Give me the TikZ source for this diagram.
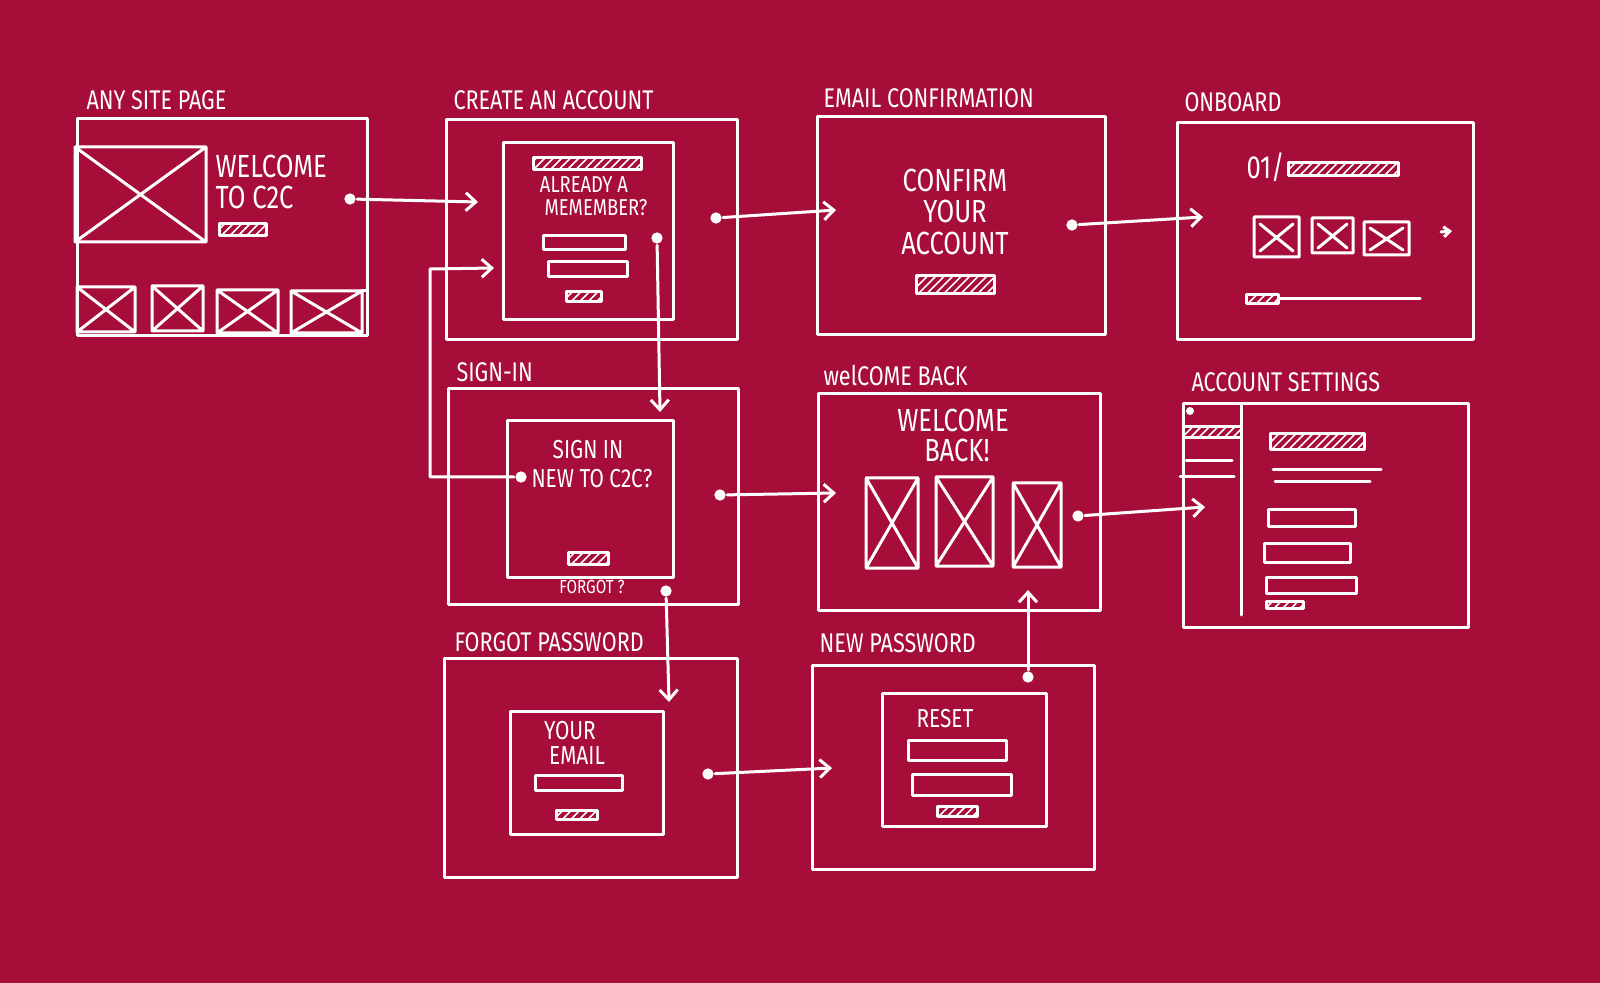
\documentclass[tikz,border=0pt]{standalone}
\usepackage{fontspec}
\newfontfamily\sketchfont[FakeStretch=0.8]{Fira Sans}
\usepackage{tikz}
\usetikzlibrary{arrows.meta}
\usetikzlibrary{patterns.meta}
\definecolor{wineRed}{RGB}{166,13,56}

\begin{document}
\begin{tikzpicture}
	[
	x=0.5pt, y=-0.5pt,
	white, line width=1.5pt, line cap=round, line join=round,
	> = {Straight Barb[length=5pt,width=9pt]},
	dot/.style = {fill,circle,inner sep=2pt},
	hatch/.style = {pattern={Lines[angle=45,distance=3pt,line width=.8pt]}, pattern color=white},
	title/.style = {anchor=base west, inner sep=0pt, font=\sketchfont\fontsize{13.5}{14}\selectfont},
	say/.style = {inner sep=0pt, align=center, font=\sketchfont\fontsize{16}{18}\selectfont},
	note/.style = {inner sep=0pt, align=center, font=\sketchfont\fontsize{13}{15}\selectfont},
	tiny/.style = {inner sep=0pt, font=\sketchfont\fontsize{9.5}{11}\selectfont}
	]
	\useasboundingbox (0,0) rectangle (1600,983);
	\fill[wineRed] (0,0) rectangle (1600,983);

	\node[title] (lblSite) at (85,110) {ANY SITE PAGE};
	\draw (77,119) rectangle (367,336);
	\draw (75,147) rectangle (206,242) (75,147) -- (206,242) (75,242) -- (206,147);
	\node[say, anchor=base west] (tWelcome) at (214,178) {WELCOME};
	\node[say, anchor=base west] (tToC) at (214,209) {TO C2C};
	\draw[hatch] (219,224) rectangle (266,236);
	\draw (77,287) rectangle (135,332) (77,287) -- (135,332) (77,332) -- (135,287);
	\draw (152,286) rectangle (203,331) (152,286) -- (203,331) (152,331) -- (203,286);
	\draw (217,290) rectangle (278,333) (217,290) -- (278,333) (217,333) -- (278,290);
	\draw (291,291) rectangle (362,333) (291,291) -- (362,333) (291,333) -- (362,291);
	\draw (362,291) -- (367,291);

	\node[title] (lblCreate) at (452,110) {CREATE AN ACCOUNT};
	\draw (446,120) rectangle (737,340);
	\draw (503,143) rectangle (673,320);
	\draw[hatch] (533,158) rectangle (641,170);
	\node[tiny, font=\sketchfont\fontsize{11.5}{13}\selectfont, anchor=base] (tAlready) at (584,193) {ALREADY A};
	\node[tiny, font=\sketchfont\fontsize{11.5}{13}\selectfont, anchor=base] (tMember) at (596,216) {MEMEMBER?};
	\draw (543,236) rectangle (625,250);
	\draw (548,262) rectangle (627,277);
	\draw[hatch] (566,292) rectangle (601,302);

	\node[title] (lblEmail) at (822,108) {EMAIL CONFIRMATION};
	\draw (817,117) rectangle (1105,335);
	\node[say] (tConfirm) at (955,180) {CONFIRM};
	\node[say] (tYour) at (955,211) {YOUR};
	\node[say] (tAccount) at (955,243) {ACCOUNT};
	\draw[hatch] (916,276) rectangle (994,294);

	\node[title] (lblOnboard) at (1183,112) {ONBOARD};
	\draw (1177,123) rectangle (1473,340);
	\node[say, anchor=base west] (tStep) at (1245,179) {01/};
	\draw[hatch] (1288,163) rectangle (1398,176);
	\draw (1254,217) rectangle (1299,257) (1260,224) -- (1293,251) (1260,251) -- (1293,224);
	\draw (1312,218) rectangle (1353,253) (1318,224) -- (1347,248) (1318,248) -- (1347,224);
	\draw (1364,222) rectangle (1409,255) (1370,228) -- (1403,250) (1370,250) -- (1403,228);
	\coordinate (nextA) at (1441,232);
	\coordinate (nextB) at (1452,231);
	\draw[-{Straight Barb[length=3pt,width=5pt]}] (nextA) -- (nextB);
	\draw[hatch] (1246,295) rectangle (1278,304);
	\draw (1278,299) -- (1420,299);

	\node[title] (lblSignIn) at (455,382) {SIGN-IN};
	\draw (448,389) rectangle (738,604);
	\draw (507,421) rectangle (673,577);
	\node[note] (tSignIn) at (588,450) {SIGN IN};
	\node[note, anchor=west] (tNew) at (530,479) {NEW TO C2C?};
	\draw[hatch] (568,553) rectangle (608,564);
	\node[tiny] (tForgot) at (592,587) {FORGOT ?};

	\node[title] (lblBack) at (822,386) {welCOME BACK};
	\draw (818,394) rectangle (1100,610);
	\node[say] (tWelcomeB) at (953,420) {WELCOME};
	\node[say] (tBack) at (957,450) {BACK!};
	\draw (866,478) rectangle (918,568) (866,478) -- (918,568) (866,568) -- (918,478);
	\draw (936,477) rectangle (993,566) (936,477) -- (993,566) (936,566) -- (993,477);
	\draw (1013,483) rectangle (1061,567) (1013,483) -- (1061,567) (1013,567) -- (1061,483);

	\node[title] (lblSettings) at (1190,392) {ACCOUNT SETTINGS};
	\draw (1183,404) rectangle (1468,627);
	\draw (1241,404) -- (1241,615);
	\fill (1190,411) circle (4);
	\draw[hatch] (1183,427) rectangle (1241,438);
	\draw (1186,461) -- (1232,461);
	\draw (1180,477) -- (1234,477);
	\draw[hatch] (1270,434) rectangle (1364,450);
	\draw (1273,470) -- (1381,470);
	\draw (1275,482) -- (1370,482);
	\draw (1268,510) rectangle (1355,527);
	\draw (1264,544) rectangle (1350,562);
	\draw (1266,577) rectangle (1356,593);
	\draw[hatch] (1266,601) rectangle (1303,608);

	\node[title] (lblForgot) at (453,651) {FORGOT PASSWORD};
	\draw (444,658) rectangle (737,877);
	\draw (510,711) rectangle (663,834);
	\node[note] (tYourE) at (570,731) {YOUR};
	\node[note] (tEmail) at (577,756) {EMAIL};
	\draw (535,775) rectangle (622,790);
	\draw[hatch] (556,810) rectangle (597,819);

	\node[title] (lblNewPw) at (818,652) {NEW PASSWORD};
	\draw (812,665) rectangle (1094,869);
	\draw (882,693) rectangle (1046,826);
	\node[note] (tReset) at (945,719) {RESET};
	\draw (908,740) rectangle (1006,760);
	\draw (912,774) rectangle (1011,795);
	\draw[hatch] (937,806) rectangle (977,816);

	\node[dot] (dSite) at (350,199) {};
	\coordinate (aCreate) at (478,202);
	\draw[->] (dSite) -- (aCreate);
	\node[dot] (dCreate) at (716,218) {};
	\coordinate (aEmail) at (836,210);
	\draw[->] (dCreate) -- (aEmail);
	\node[dot] (dEmail) at (1072,225) {};
	\coordinate (aOnboard) at (1203,217);
	\draw[->] (dEmail) -- (aOnboard);
	\node[dot] (dMember) at (657,238) {};
	\coordinate (aSignIn) at (660,412);
	\draw[->] (dMember) -- (aSignIn);
	\node[dot] (dNew) at (521,477) {};
	\coordinate (loopTop) at (430,269);
	\coordinate (aCreateB) at (494,268);
	\draw[->] (dNew) -| (loopTop) -- (aCreateB);
	\node[dot] (dSignIn) at (720,495) {};
	\coordinate (aBack) at (836,493);
	\draw[->] (dSignIn) -- (aBack);
	\node[dot] (dBack) at (1078,516) {};
	\coordinate (aSettings) at (1205,507);
	\draw[->] (dBack) -- (aSettings);
	\node[dot] (dForgot) at (666,591) {};
	\coordinate (aForgot) at (669,702);
	\draw[->] (dForgot) -- (aForgot);
	\node[dot] (dEmailIn) at (708,774) {};
	\coordinate (aNewPw) at (832,768);
	\draw[->] (dEmailIn) -- (aNewPw);
	\node[dot] (dReset) at (1028,677) {};
	\coordinate (aBackUp) at (1028,590);
	\draw[->] (dReset) -- (aBackUp);
\end{tikzpicture}
\end{document}
